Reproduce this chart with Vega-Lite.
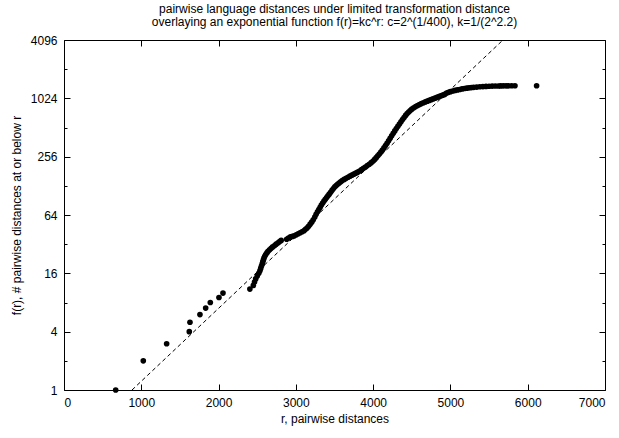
{
  "$schema": "https://vega.github.io/schema/vega-lite/v6.json",
  "width": 541,
  "height": 350,
  "autosize": "none",
  "padding": {"left": 64, "top": 40, "right": 14, "bottom": 48},
  "background": "white",
  "title": {
    "text": ["pairwise language distances under limited transformation distance", "overlaying an exponential function f(r)=kc^r: c=2^(1/400), k=1/(2^2.2)"],
    "font": "Liberation Sans",
    "fontSize": 12,
    "fontWeight": "normal",
    "lineHeight": 13.5,
    "offset": 5,
    "anchor": "middle",
    "color": "black"
  },
  "config": {
    "view": {"stroke": "black", "strokeWidth": 1},
    "axis": {
      "domain": false,
      "grid": false,
      "labelFont": "Liberation Sans",
      "labelFontSize": 12,
      "labelColor": "black",
      "titleFont": "Liberation Sans",
      "titleFontSize": 12,
      "titleFontWeight": "normal",
      "titleColor": "black",
      "tickColor": "black",
      "tickWidth": 1
    }
  },
  "layer": [
    {
      "data": {"values": [
        {"r": 669, "f": 1}, {"r": 1026, "f": 2}, {"r": 1328, "f": 3}, {"r": 1621, "f": 4}, {"r": 1630, "f": 5},
        {"r": 1759, "f": 6}, {"r": 1833, "f": 7}, {"r": 1893, "f": 8}, {"r": 2005, "f": 9}, {"r": 2057, "f": 10},
        {"r": 2405, "f": 11}, {"r": 2450, "f": 12}, {"r": 2465, "f": 13}, {"r": 2480, "f": 14}, {"r": 2500, "f": 15},
        {"r": 2520, "f": 16}, {"r": 2535, "f": 17}, {"r": 2545, "f": 18}, {"r": 2555, "f": 19}, {"r": 2565, "f": 20},
        {"r": 2572, "f": 21}, {"r": 2580, "f": 22}, {"r": 2588, "f": 23}, {"r": 2597, "f": 24}, {"r": 2610, "f": 25},
        {"r": 2625, "f": 26}, {"r": 2640, "f": 27}, {"r": 2660, "f": 28}, {"r": 2680, "f": 29}, {"r": 2700, "f": 30},
        {"r": 2725, "f": 31}, {"r": 2745, "f": 32}, {"r": 2770, "f": 33}, {"r": 2790, "f": 34}, {"r": 2810, "f": 35},
        {"r": 2881, "f": 36}, {"r": 2905, "f": 37}, {"r": 2930, "f": 38}, {"r": 2955, "f": 38.5}, {"r": 2980, "f": 39},
        {"r": 3005, "f": 40}, {"r": 3030, "f": 41}, {"r": 3055, "f": 42}, {"r": 3080, "f": 43}, {"r": 3105, "f": 44},
        {"r": 3125, "f": 45.5}, {"r": 3145, "f": 47}, {"r": 3165, "f": 49}, {"r": 3185, "f": 51.5}, {"r": 3205, "f": 54},
        {"r": 3225, "f": 57}, {"r": 3245, "f": 61}, {"r": 3262, "f": 65}, {"r": 3280, "f": 69}, {"r": 3297, "f": 73},
        {"r": 3314, "f": 77}, {"r": 3330, "f": 81}, {"r": 3347, "f": 85}, {"r": 3364, "f": 89}, {"r": 3381, "f": 93},
        {"r": 3398, "f": 97}, {"r": 3415, "f": 101}, {"r": 3432, "f": 105}, {"r": 3450, "f": 110}, {"r": 3468, "f": 115},
        {"r": 3486, "f": 120}, {"r": 3504, "f": 125}, {"r": 3522, "f": 129}, {"r": 3540, "f": 133}, {"r": 3560, "f": 137},
        {"r": 3580, "f": 141}, {"r": 3600, "f": 145}, {"r": 3625, "f": 149}, {"r": 3650, "f": 153}, {"r": 3675, "f": 157},
        {"r": 3700, "f": 161}, {"r": 3725, "f": 165}, {"r": 3750, "f": 169}, {"r": 3775, "f": 173}, {"r": 3800, "f": 177},
        {"r": 3825, "f": 182}, {"r": 3850, "f": 188}, {"r": 3875, "f": 194}, {"r": 3900, "f": 200}, {"r": 3925, "f": 207},
        {"r": 3950, "f": 214}, {"r": 3975, "f": 222}, {"r": 4000, "f": 231}, {"r": 4020, "f": 240}, {"r": 4040, "f": 250},
        {"r": 4060, "f": 261}, {"r": 4080, "f": 273}, {"r": 4100, "f": 286}, {"r": 4120, "f": 300}, {"r": 4140, "f": 315},
        {"r": 4160, "f": 333}, {"r": 4180, "f": 352}, {"r": 4200, "f": 373}, {"r": 4220, "f": 396}, {"r": 4240, "f": 420},
        {"r": 4260, "f": 446}, {"r": 4280, "f": 472}, {"r": 4300, "f": 500}, {"r": 4320, "f": 528}, {"r": 4340, "f": 557},
        {"r": 4360, "f": 587}, {"r": 4380, "f": 618}, {"r": 4400, "f": 650}, {"r": 4420, "f": 682}, {"r": 4440, "f": 712},
        {"r": 4460, "f": 740}, {"r": 4480, "f": 767}, {"r": 4500, "f": 792}, {"r": 4525, "f": 818}, {"r": 4550, "f": 842},
        {"r": 4575, "f": 864}, {"r": 4600, "f": 884}, {"r": 4625, "f": 903}, {"r": 4650, "f": 922}, {"r": 4675, "f": 940},
        {"r": 4700, "f": 958}, {"r": 4725, "f": 975}, {"r": 4750, "f": 992}, {"r": 4775, "f": 1010}, {"r": 4800, "f": 1028},
        {"r": 4825, "f": 1047}, {"r": 4850, "f": 1066}, {"r": 4875, "f": 1085}, {"r": 4900, "f": 1104}, {"r": 4925, "f": 1123},
        {"r": 4950, "f": 1160}, {"r": 4975, "f": 1180}, {"r": 5000, "f": 1200}, {"r": 5030, "f": 1218}, {"r": 5060, "f": 1235},
        {"r": 5090, "f": 1250}, {"r": 5120, "f": 1263}, {"r": 5150, "f": 1280}, {"r": 5180, "f": 1295}, {"r": 5210, "f": 1305},
        {"r": 5240, "f": 1315}, {"r": 5270, "f": 1323}, {"r": 5300, "f": 1330}, {"r": 5340, "f": 1338}, {"r": 5380, "f": 1347},
        {"r": 5420, "f": 1354}, {"r": 5460, "f": 1360}, {"r": 5500, "f": 1365}, {"r": 5540, "f": 1369}, {"r": 5580, "f": 1372},
        {"r": 5620, "f": 1374}, {"r": 5650, "f": 1376}, {"r": 5684, "f": 1377}, {"r": 5720, "f": 1378}, {"r": 5749, "f": 1379},
        {"r": 5792, "f": 1380}, {"r": 5835, "f": 1381}, {"r": 6115, "f": 1382}
      ]},
      "mark": {"type": "circle", "size": 32, "color": "black", "opacity": 1},
      "encoding": {
        "x": {
          "field": "r", "type": "quantitative",
          "scale": {"domain": [0, 7000], "nice": false, "zero": false},
          "axis": {
            "orient": "bottom",
            "values": [0, 1000, 2000, 3000, 4000, 5000, 6000, 7000],
            "format": "d",
            "offset": -6,
            "tickSize": 6,
            "labelPadding": 7,
            "title": "r, pairwise distances",
            "titlePadding": 5
          }
        },
        "y": {
          "field": "f", "type": "quantitative",
          "scale": {"type": "log", "base": 2, "domain": [1, 4096], "nice": false},
          "axis": {
            "orient": "left",
            "values": [1, 4, 16, 64, 256, 1024, 4096],
            "format": "d",
            "offset": -6,
            "tickSize": 6,
            "labelPadding": 7,
            "title": "f(r), # pairwise distances at or below r",
            "titlePadding": 7
          }
        }
      }
    },
    {
      "data": {"values": [{"r": 880, "f": 1}, {"r": 5680, "f": 4096}]},
      "mark": {"type": "line", "color": "black", "strokeWidth": 1, "strokeDash": [4, 3]},
      "encoding": {
        "x": {
          "field": "r", "type": "quantitative",
          "scale": {"domain": [0, 7000], "nice": false, "zero": false},
          "axis": {
            "orient": "top",
            "values": [0, 1000, 2000, 3000, 4000, 5000, 6000, 7000],
            "labels": false,
            "offset": -6,
            "tickSize": 6,
            "title": null
          }
        },
        "y": {
          "field": "f", "type": "quantitative",
          "scale": {"type": "log", "base": 2, "domain": [1, 4096], "nice": false},
          "axis": {
            "orient": "right",
            "values": [1, 4, 16, 64, 256, 1024, 4096],
            "labels": false,
            "offset": -6,
            "tickSize": 6,
            "title": null
          }
        }
      }
    },
    {
      "data": {"values": [{"r": 880, "f": 1}, {"r": 5680, "f": 4096}]},
      "mark": {"type": "line", "opacity": 0},
      "encoding": {
        "x": {"field": "r", "type": "quantitative", "scale": {"domain": [0, 7000], "nice": false, "zero": false}, "axis": null},
        "y": {
          "field": "f", "type": "quantitative",
          "scale": {"type": "log", "base": 2, "domain": [1, 4096], "nice": false},
          "axis": {
            "orient": "left",
            "values": [2, 8, 32, 128, 512, 2048],
            "labels": false,
            "offset": -3,
            "tickSize": 3,
            "title": null
          }
        }
      }
    },
    {
      "data": {"values": [{"r": 880, "f": 1}, {"r": 5680, "f": 4096}]},
      "mark": {"type": "line", "opacity": 0},
      "encoding": {
        "x": {"field": "r", "type": "quantitative", "scale": {"domain": [0, 7000], "nice": false, "zero": false}, "axis": null},
        "y": {
          "field": "f", "type": "quantitative",
          "scale": {"type": "log", "base": 2, "domain": [1, 4096], "nice": false},
          "axis": {
            "orient": "right",
            "values": [2, 8, 32, 128, 512, 2048],
            "labels": false,
            "offset": -3,
            "tickSize": 3,
            "title": null
          }
        }
      }
    }
  ],
  "resolve": {"axis": {"x": "independent", "y": "independent"}}
}
